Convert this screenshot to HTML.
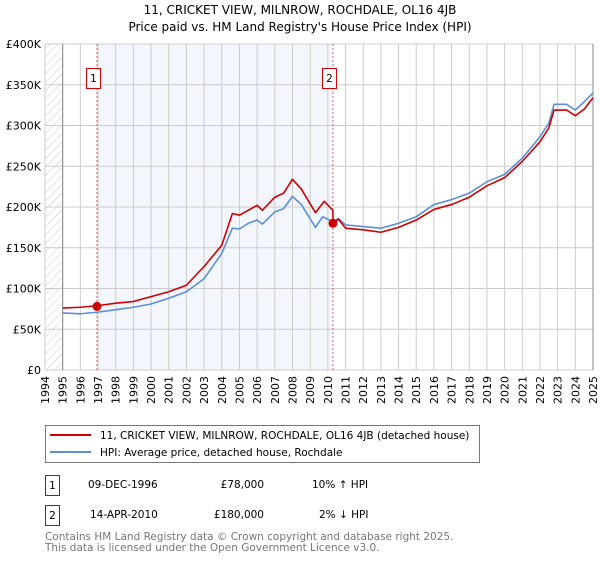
<!DOCTYPE html>
<html><head><meta charset="utf-8"><style>
body{margin:0;background:#fff;width:600px;height:560px;overflow:hidden;font-family:"DejaVu Sans","Liberation Sans",sans-serif}
svg text{font-family:"DejaVu Sans","Liberation Sans",sans-serif}
</style></head><body>
<svg id="chart" width="600" height="560" xmlns="http://www.w3.org/2000/svg">
<defs><pattern id="hatch" width="6" height="6" patternUnits="userSpaceOnUse" patternTransform="rotate(45)"><line x1="0" y1="0" x2="0" y2="6" stroke="#ccc" stroke-width="1"/></pattern></defs>
<text x="300" y="14" text-anchor="middle" font-size="12">11, CRICKET VIEW, MILNROW, ROCHDALE, OL16 4JB</text>
<text x="300" y="31" text-anchor="middle" font-size="12">Price paid vs. HM Land Registry's House Price Index (HPI)</text>
<g id="plot"></g>
<g>
<rect x="45.5" y="425.5" width="434" height="37" fill="#fff" stroke="#777"/>
<line x1="50" y1="435" x2="91" y2="435" stroke="#cc0000" stroke-width="2"/>
<text x="100" y="439" font-size="10.5">11, CRICKET VIEW, MILNROW, ROCHDALE, OL16 4JB (detached house)</text>
<line x1="50" y1="452" x2="91" y2="452" stroke="#5b8fd4" stroke-width="2"/>
<text x="100" y="456" font-size="10.5">HPI: Average price, detached house, Rochdale</text>
</g>
<g font-size="10.5">
<rect x="45.5" y="475.5" width="14" height="20" fill="#fff" stroke="#cc0000"/><text x="52.5" y="489" text-anchor="middle">1</text>
<text x="88" y="488">09-DEC-1996</text><text x="264" y="488" text-anchor="end">£78,000</text><text x="312" y="488">10% ↑ HPI</text>
<rect x="45.5" y="505.5" width="14" height="20" fill="#fff" stroke="#cc0000"/><text x="52.5" y="519" text-anchor="middle">2</text>
<text x="90" y="518">14-APR-2010</text><text x="264" y="518" text-anchor="end">£180,000</text><text x="319" y="518">2% ↓ HPI</text>
</g>
<text x="45" y="540" font-size="10.5" fill="#777">Contains HM Land Registry data © Crown copyright and database right 2025.</text>
<text x="45" y="551" font-size="10.5" fill="#777">This data is licensed under the Open Government Licence v3.0.</text>
</svg>
<script>
const yTicks=[0,50,100,150,200,250,300,350,400];
const yTickLabels=["£0","£50K","£100K","£150K","£200K","£250K","£300K","£350K","£400K"];
const years=[1994,1995,1996,1997,1998,1999,2000,2001,2002,2003,2004,2005,2006,2007,2008,2009,2010,2011,2012,2013,2014,2015,2016,2017,2018,2019,2020,2021,2022,2023,2024,2025];
const hpiT=[1995,1996,1997,1998,1999,2000,2001,2002,2003,2004,2004.6,2005,2005.5,2006,2006.3,2007,2007.5,2008,2008.5,2009.3,2009.7,2010.3,2010.6,2011,2012,2013,2014,2015,2016,2017,2018,2019,2020,2021,2022,2022.5,2022.8,2023.5,2024,2024.5,2025];
const hpiV=[70,69,71,74,77,81,88,96,112,143,174,173,180,184,179,194,198,213,203,175,188,182,186,178,176,174,180,188,203,209,217,231,240,260,286,303,326,326,319,329,340];
const redT=[1995,1996,1997,1998,1999,2000,2001,2002,2003,2004,2004.6,2005,2006,2006.3,2007,2007.5,2008,2008.5,2009.3,2009.8,2010.28,2010.3,2010.6,2011,2012,2013,2014,2015,2016,2017,2018,2019,2020,2021,2022,2022.5,2022.8,2023.5,2024,2024.5,2025];
const redV=[76,77,79,82,84,90,96,104,127,153,192,190,202,196,212,217,234,222,193,207,196,180,185,174,172,169,175,184,197,203,212,226,236,256,280,297,319,319,312,320,334];
const saleT=[1996.94,2010.29];
const saleV=[78,180];
const saleLabels=["1","2"];
const X0=45,X1=593,Y0=370,Y1=44,T0=1994,T1=2025,VMAX=400;
const sx=t=>X0+(t-T0)*(X1-X0)/(T1-T0);
const sy=v=>Y0-v*(Y0-Y1)/VMAX;
const NS="http://www.w3.org/2000/svg";
const g=document.getElementById('plot');
function mk(tag,attrs,parent){const e=document.createElementNS(NS,tag);for(const k in attrs)e.setAttribute(k,attrs[k]);(parent||g).appendChild(e);return e;}
mk('rect',{x:X0,y:Y1,width:X1-X0,height:Y0-Y1,fill:'#fff'});
const band=mk('rect',{x:sx(saleT[0]),y:Y1,width:sx(saleT[1])-sx(saleT[0]),height:Y0-Y1,fill:'#eef2fc',opacity:0.7});


const hatch=mk('rect',{x:X0,y:Y1,width:sx(1995)-X0,height:Y0-Y1,fill:'url(#hatch)'});


years.forEach((yr,i)=>{
 const x=sx(yr);
 const l=mk('line',{x1:x,y1:Y1,x2:x,y2:Y0,stroke:'#ccc','stroke-width':1});
 
 
 const t=mk('text',{x:0,y:0,'font-size':11,'text-anchor':'end',transform:`translate(${x+4},${Y0+6}) rotate(-90)`});
 t.textContent=yr;
 
 
});
yTicks.forEach((v,i)=>{
 const y=sy(v);
 const l=mk('line',{x1:X0,y1:y,x2:X1,y2:y,stroke:'#ccc','stroke-width':1});
 
 
 const t=mk('text',{x:X0-4,y:y+4,'font-size':11,'text-anchor':'end'});
 t.textContent=yTickLabels[i];
 
 
});
mk('line',{x1:sx(1995),y1:Y1,x2:sx(1995),y2:Y0,stroke:'#888'});
mk('line',{x1:X1,y1:Y1,x2:X1,y2:Y0,stroke:'#888'});
saleT.forEach((t,i)=>{
 const x=sx(t);
 const l=mk('line',{x1:x,y1:Y1,x2:x,y2:Y0,stroke:'#e06060','stroke-dasharray':'2,2'});
 
 
 const b=mk('rect',{x:x-10.5,y:68.5,width:14,height:20,fill:'#fff',stroke:'#cc0000'});
 
 
 const tx=mk('text',{x:x-3.5,y:82,'font-size':10.5,'text-anchor':'middle'});
 tx.textContent=saleLabels[i];
 
 
});
function line(T,V,color,name){
 const p=mk('polyline',{points:T.map((t,i)=>sx(t)+','+sy(V[i])).join(' '),fill:'none',stroke:color,'stroke-width':1.6,'stroke-linejoin':'round'});
 
 
}
line(hpiT,hpiV,'#5b8fd4','hpi-line');
line(redT,redV,'#cc0000','price-paid-line');
saleT.forEach((t,i)=>{
 const c=mk('circle',{cx:sx(t),cy:sy(saleV[i]),r:4.5,fill:'#cc0000'});
 
 
});
</script>
</body></html>
